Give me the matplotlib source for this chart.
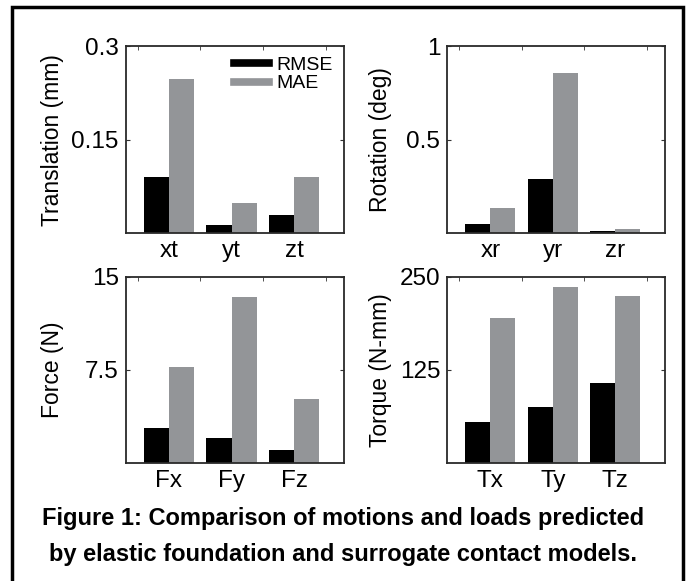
import matplotlib
matplotlib.use('Agg')
from matplotlib import pyplot as plt
from matplotlib.lines import Line2D
from matplotlib.patches import Rectangle
import numpy as np

plt.rcParams['font.family'] = ['Liberation Sans', 'DejaVu Sans']

# data
trans_labels = ['xt', 'yt', 'zt']
trans_rmse = [0.090, 0.014, 0.030]
trans_mae = [0.247, 0.048, 0.091]

rot_labels = ['xr', 'yr', 'zr']
rot_rmse = [0.050, 0.289, 0.011]
rot_mae = [0.136, 0.859, 0.023]

force_labels = ['Fx', 'Fy', 'Fz']
force_rmse = [2.81, 2.01, 1.07]
force_mae = [7.74, 13.36, 5.17]

torque_labels = ['Tx', 'Ty', 'Tz']
torque_rmse = [55, 75, 107]
torque_mae = [195, 236, 224]

panels = [
    (trans_labels, trans_rmse, trans_mae, 'Translation (mm)', 0.3, [0.15, 0.3], ['0.15', '0.3']),
    (rot_labels, rot_rmse, rot_mae, 'Rotation (deg)', 1.0, [0.5, 1.0], ['0.5', '1']),
    (force_labels, force_rmse, force_mae, 'Force (N)', 15, [7.5, 15], ['7.5', '15']),
    (torque_labels, torque_rmse, torque_mae, 'Torque (N-mm)', 250, [125, 250], ['125', '250']),
]

BLACK = '#000000'
GRAY = '#939598'

fig = plt.figure(figsize=(6.86, 5.81), dpi=100)
positions = [
    [0.1832, 0.5985, 0.3187, 0.3215],
    [0.6519, 0.5985, 0.3180, 0.3215],
    [0.1832, 0.2026, 0.3187, 0.3212],
    [0.6519, 0.2026, 0.3180, 0.3212],
]
label_x = [-0.334, -0.304, -0.334, -0.304]   # ylabel centres, axes fraction

for pos, lx, (labels, rmse, mae, ylabel, ymax, yt, ytl) in zip(positions, label_x, panels):
    ax = fig.add_axes(pos)
    x = np.arange(1, len(labels) + 1)
    w = 0.4
    ax.bar(x - w / 2, rmse, w, color=BLACK, linewidth=0)
    ax.bar(x + w / 2, mae, w, color=GRAY, linewidth=0)
    ax.set_xlim(0.31, 3.8)
    ax.set_ylim(0, ymax)
    ax.set_xticks(x)
    ax.set_xticklabels(labels, fontsize=17.5)
    ax.set_yticks(yt)
    ax.set_yticklabels(ytl, fontsize=17.5)
    ax.set_ylabel(ylabel, fontsize=16.5, va='center')
    ax.yaxis.set_label_coords(lx, 0.5)
    ax.tick_params(axis='x', length=0, pad=5)
    ax.tick_params(axis='y', direction='in', length=3, right=True, pad=5, color='#333333')
    ax.set_xticks(np.arange(0.5, 4.0, 0.5), minor=True)
    ax.tick_params(axis='x', which='minor', direction='in', top=True, bottom=False, length=3, color='#333333')
    for s in ax.spines.values():
        s.set_color('#2a2a2a')
        s.set_linewidth(1.3)
    if ylabel.startswith('Translation'):
        handles = [Line2D([], [], color=BLACK, lw=5.5), Line2D([], [], color=GRAY, lw=5.5)]
        ax.legend(handles, ['RMSE', 'MAE'], loc='upper right', frameon=False, fontsize=14,
                  handlelength=1.8, handletextpad=0.35, labelspacing=0.05,
                  borderaxespad=0.1, bbox_to_anchor=(0.99, 1.0))

# outer frame of the figure panel
fig.patches.append(Rectangle((12 / 686, -0.05), (683 - 12) / 686, 1 - 7 / 581 + 0.05,
                             transform=fig.transFigure, fill=False, edgecolor='black', linewidth=2.5))

fig.text(0.5, 1 - 519 / 581, 'Figure 1: Comparison of motions and loads predicted',
         ha='center', va='center', fontsize=17, fontweight='bold')
fig.text(0.5, 1 - 555 / 581, 'by elastic foundation and surrogate contact models.',
         ha='center', va='center', fontsize=17, fontweight='bold')

plt.savefig('out.png', dpi=100)
